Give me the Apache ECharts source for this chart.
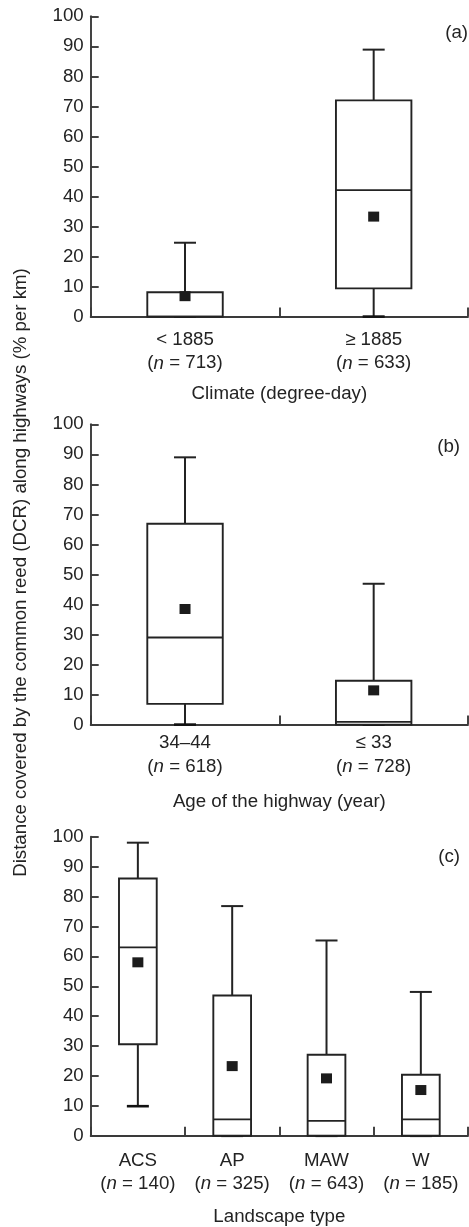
<!DOCTYPE html>
<html>
<head>
<meta charset="utf-8">
<script src="https://cdn.jsdelivr.net/npm/echarts@6/dist/echarts.min.js"></script>
<style>
  html, body { margin: 0; padding: 0; background: #fff; }
  #chart { width: 469px; height: 1227px; }
</style>
</head>
<body>
<div id="chart"></div>
<script>
// Panel (a): climate (degree-day)
const climateCats = ['< 1885', '≥ 1885'];
const climateN = [713, 633];
// [min, Q1, median, Q3, max]
const climateBox = [[0, 0, 0, 8.1, 24.6], [0, 9.4, 42.1, 72.0, 88.9]];
const climateMean = [6.8, 33.3];

// Panel (b): age of the highway (year)
const ageCats = ['34–44', '≤ 33'];
const ageN = [618, 728];
const ageBox = [[0, 6.9, 29.0, 66.9, 89.0], [0, 0, 0.9, 14.6, 46.9]];
const ageMean = [38.5, 11.4];

// Panel (c): landscape type
const landCats = ['ACS', 'AP', 'MAW', 'W'];
const landN = [140, 325, 643, 185];
const landBox = [
  [9.9, 30.6, 63.0, 86.0, 98.0],
  [0, 0, 5.5, 46.9, 76.8],
  [0, 0, 5.0, 27.1, 65.3],
  [0, 0, 5.5, 20.4, 48.1]
];
const landMean = [58.0, 23.3, 19.2, 15.3];

const yTicks = [0, 10, 20, 30, 40, 50, 60, 70, 80, 90, 100];

const INK = '#232323';
const AXIS = '#3a3a3a';
const FONT = '"Liberation Sans", Arial, Helvetica, sans-serif';
const FS = 18.7;

const panels = [
  { cats: climateCats, n: climateN, box: climateBox, mean: climateMean,
    title: 'Climate (degree-day)', tag: '(a)', top: 16.3, labelMargin: 11.5, nameGap: 77.6, tagX: 468, tagY: 33 },
  { cats: ageCats, n: ageN, box: ageBox, mean: ageMean,
    title: 'Age of the highway (year)', tag: '(b)', top: 424.3, labelMargin: 6.8, nameGap: 77, tagX: 460, tagY: 447 },
  { cats: landCats, n: landN, box: landBox, mean: landMean,
    title: 'Landscape type', tag: '(c)', top: 836.7, labelMargin: 13, nameGap: 80.7, tagX: 460, tagY: 857.5 }
];

const PLOT_H = 300.3;

// Box-and-whisker glyph: narrow whisker caps, white box, median bar
function renderBox(params, api) {
  const x = api.value(0);
  const lo = api.coord([x, api.value(1)]);
  const q1 = api.coord([x, api.value(2)]);
  const med = api.coord([x, api.value(3)]);
  const q3 = api.coord([x, api.value(4)]);
  const hi = api.coord([x, api.value(5)]);
  const cx = lo[0];
  const bw = api.size([1, 0])[0] * 0.4;
  const cap = 22;
  const whisk = { stroke: INK, lineWidth: 2 };
  const edge = { stroke: INK, lineWidth: 1.9, fill: '#fff' };
  return {
    type: 'group',
    children: [
      { type: 'line', shape: { x1: cx, y1: q3[1], x2: cx, y2: hi[1] }, style: whisk },
      { type: 'line', shape: { x1: cx - cap / 2, y1: hi[1], x2: cx + cap / 2, y2: hi[1] }, style: whisk },
      { type: 'line', shape: { x1: cx, y1: q1[1], x2: cx, y2: lo[1] }, style: whisk },
      { type: 'line', shape: { x1: cx - cap / 2, y1: lo[1], x2: cx + cap / 2, y2: lo[1] }, style: { stroke: '#111', lineWidth: 2.6 } },
      { type: 'rect', shape: { x: cx - bw / 2, y: q3[1], width: bw, height: q1[1] - q3[1] }, style: edge },
      { type: 'line', shape: { x1: cx - bw / 2, y1: med[1], x2: cx + bw / 2, y2: med[1] }, style: { stroke: INK, lineWidth: 1.9 } }
    ]
  };
}

const grid = [], xAxis = [], yAxis = [], series = [], graphic = [];

panels.forEach((p, i) => {
  grid.push({ left: 90.7, right: 1, top: p.top, height: PLOT_H });
  const nMap = {};
  p.cats.forEach((c, k) => { nMap[c] = p.n[k]; });
  xAxis.push({
    type: 'category', gridIndex: i, data: p.cats, boundaryGap: true,
    axisLine: { show: true, lineStyle: { color: AXIS, width: 1.9 } },
    axisTick: { show: true, inside: true, length: 9, lineStyle: { color: AXIS, width: 1.9 } },
    axisLabel: {
      margin: p.labelMargin, interval: 0,
      formatter: v => `{t|${v}}\n{p|(}{i|n}{p| = ${nMap[v]})}`,
      rich: {
        t: { fontSize: FS, fontFamily: FONT, color: INK, lineHeight: 23.5 },
        p: { fontSize: FS, fontFamily: FONT, color: INK, lineHeight: 23.5 },
        i: { fontSize: FS, fontFamily: FONT, color: INK, fontStyle: 'italic', lineHeight: 23.5 }
      }
    },
    name: p.title, nameLocation: 'middle', nameGap: p.nameGap,
    nameTextStyle: { fontSize: FS, fontFamily: FONT, color: INK, verticalAlign: 'middle' },
    splitLine: { show: false }
  });
  yAxis.push({
    type: 'value', gridIndex: i, min: 0, max: 100, interval: 10,
    axisLine: { show: true, lineStyle: { color: AXIS, width: 1.9 } },
    axisTick: { show: true, inside: true, length: 8, lineStyle: { color: AXIS, width: 1.9 } },
    axisLabel: { margin: 7, fontSize: FS, fontFamily: FONT, color: INK,
      customValues: yTicks },
    splitLine: { show: false }
  });
  series.push({
    type: 'custom', xAxisIndex: i, yAxisIndex: i,
    renderItem: renderBox,
    encode: { x: 0, y: [1, 2, 3, 4, 5] },
    data: p.box.map((b, k) => [k].concat(b)),
    z: 2, silent: true
  });
  series.push({
    type: 'scatter', xAxisIndex: i, yAxisIndex: i,
    symbol: 'rect', symbolSize: [11, 10],
    itemStyle: { color: '#1c1c1c', opacity: 1 },
    data: p.mean.map((m, k) => [k, m]),
    z: 5, silent: true
  });
  graphic.push({
    type: 'text', right: 469 - p.tagX, top: p.tagY - 10,
    style: { text: p.tag, fontSize: FS, fontFamily: FONT, fill: INK }
  });
});

graphic.push({
  type: 'text', x: 21, y: 572.5, rotation: Math.PI / 2,
  style: {
    text: 'Distance covered by the common reed (DCR) along highways (% per km)',
    fontSize: FS, fontFamily: FONT, fill: INK, align: 'center', verticalAlign: 'middle'
  }
});

const chart = echarts.init(document.getElementById('chart'), null, { renderer: 'canvas' });
chart.setOption({
  animation: false,
  backgroundColor: '#fff',
  grid, xAxis, yAxis, series, graphic
});
</script>
</body>
</html>
